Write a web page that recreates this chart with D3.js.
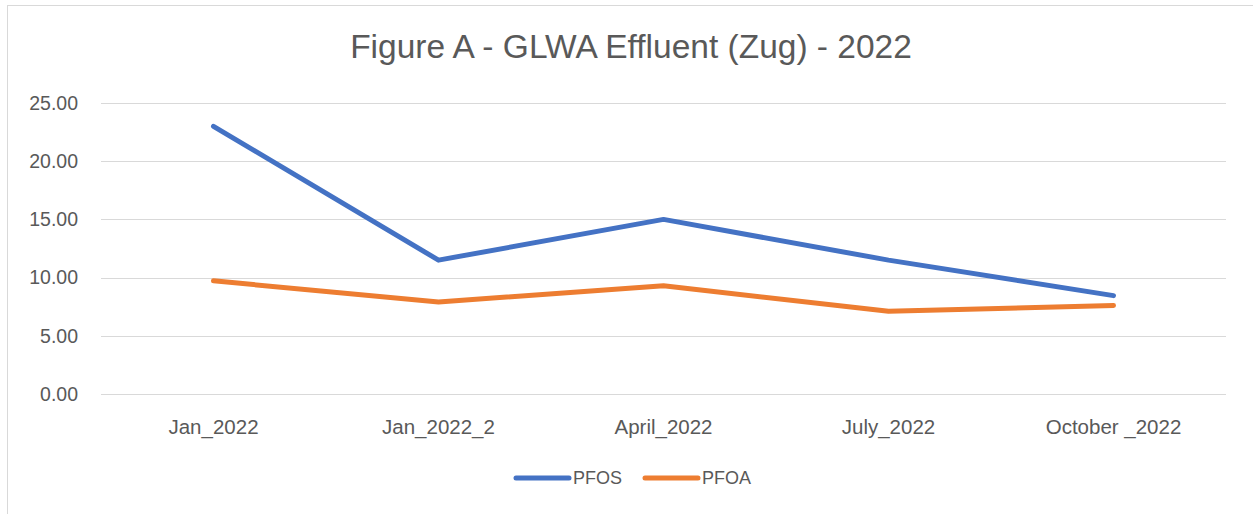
<!DOCTYPE html>
<html>
<head>
<meta charset="utf-8">
<script src="https://cdn.jsdelivr.net/npm/d3@7"></script>
<style>
  body { margin: 0; background: #fff; }
  text { font-family: "Liberation Sans", Arial, sans-serif; fill: #595959; }
</style>
</head>
<body>
<script>
// chart data
var categories = ['Jan_2022', 'Jan_2022_2', 'April_2022', 'July_2022', 'October _2022'];
var pfos = [23.0, 11.5, 15.0, 11.5, 8.45];
var pfoa = [9.72, 7.9, 9.3, 7.1, 7.6];
var yTicks = [0, 5, 10, 15, 20, 25];
var seriesNames = ['PFOS', 'PFOA'];
var seriesColors = ['#4472C4', '#ED7D31'];

var width = 1253, height = 514;
var margin = {left: 101, right: 27, top: 103, bottom: 120};

var svg = d3.select('body').append('svg')
  .attr('width', width)
  .attr('height', height);

// chart border
svg.append('rect')
  .attr('x', 7.5).attr('y', 5.5)
  .attr('width', width - 7).attr('height', height - 4)
  .attr('fill', 'none')
  .attr('stroke', '#d9d9d9');

svg.append('text')
  .attr('x', 631).attr('y', 58)
  .attr('text-anchor', 'middle')
  .style('font-size', '33.5px')
  .text('Figure A - GLWA Effluent (Zug) - 2022');

var x = d3.scaleBand()
  .domain(categories)
  .range([margin.left, width - margin.right]);

var y = d3.scaleLinear()
  .domain([0, 25])
  .range([394, margin.top]);

// gridlines
svg.append('g').selectAll('line')
  .data(yTicks)
  .enter().append('line')
  .attr('x1', margin.left).attr('x2', width - margin.right)
  .attr('y1', function(d) { return Math.round(y(d)) + 0.5; })
  .attr('y2', function(d) { return Math.round(y(d)) + 0.5; })
  .attr('stroke', '#d9d9d9')
  .attr('stroke-width', 1.2);

var yAxis = svg.append('g')
  .attr('transform', 'translate(' + (margin.left - 23) + ',0)')
  .call(d3.axisLeft(y).tickValues(yTicks).tickFormat(d3.format('.2f')).tickSize(0));
yAxis.select('.domain').remove();
yAxis.selectAll('text').style('font-size', '19.5px').attr('fill', '#595959').attr('x', 0);

var xAxis = svg.append('g')
  .attr('transform', 'translate(0,' + 416 + ')')
  .call(d3.axisBottom(x).tickSize(0));
xAxis.select('.domain').remove();
xAxis.selectAll('text').style('font-size', '20.5px').attr('fill', '#595959').attr('dy', '0.71em');

var line = d3.line()
  .x(function(d, i) { return x(categories[i]) + x.bandwidth() / 2; })
  .y(function(d) { return y(d); });

[pfos, pfoa].forEach(function(s, i) {
  svg.append('path')
    .datum(s)
    .attr('d', line)
    .attr('fill', 'none')
    .attr('stroke', seriesColors[i])
    .attr('stroke-width', 5)
    .attr('stroke-linecap', 'round')
    .attr('stroke-linejoin', 'round');
});

// legend
var legend = svg.append('g').attr('transform', 'translate(516,478)');
var items = legend.selectAll('g')
  .data(seriesNames)
  .enter().append('g')
  .attr('transform', function(d, i) { return 'translate(' + (i * 129) + ',0)'; });
items.append('line')
  .attr('x1', 0).attr('x2', 53)
  .attr('stroke', function(d, i) { return seriesColors[i]; })
  .attr('stroke-width', 5)
  .attr('stroke-linecap', 'round');
items.append('text')
  .attr('x', 57).attr('dy', '0.35em')
  .style('font-size', '18px')
  .text(function(d) { return d; });
</script>
</body>
</html>
